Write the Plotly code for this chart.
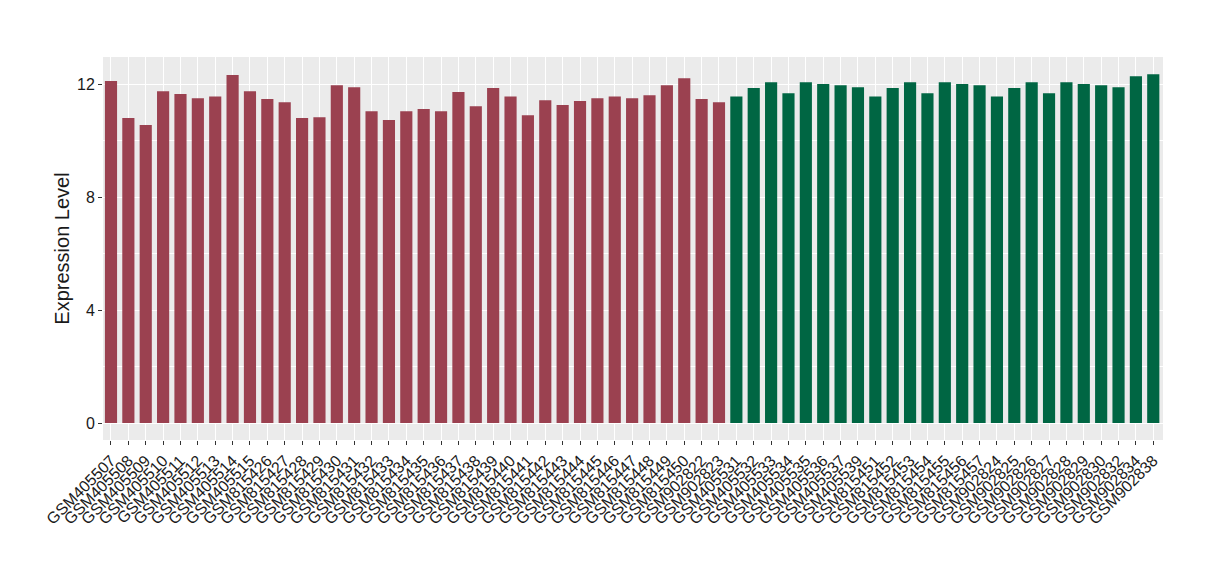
import plotly.graph_objects as go

red_samples = (["GSM4055%02d" % i for i in range(7, 16)]
               + ["GSM8154%02d" % i for i in range(26, 51)]
               + ["GSM902822", "GSM902823"])
green_samples = (["GSM4055%02d" % i for i in range(31, 38)] + ["GSM405539"]
                 + ["GSM8154%02d" % i for i in range(51, 58)]
                 + ["GSM9028%02d" % i for i in range(24, 31)]
                 + ["GSM902832", "GSM902834", "GSM902838"])

red_values = [12.11, 10.80, 10.55, 11.75, 11.65, 11.50, 11.56, 12.32, 11.75,
              11.47, 11.36, 10.80, 10.83, 11.96, 11.89, 11.04, 10.73, 11.04,
              11.12, 11.04, 11.72, 11.22, 11.86, 11.56, 10.90, 11.43, 11.26,
              11.40, 11.50, 11.56, 11.50, 11.61, 11.96, 12.21, 11.47, 11.36]
green_values = [11.56, 11.86, 12.07, 11.68, 12.07, 12.00, 11.96, 11.89, 11.56,
                11.86, 12.07, 11.68, 12.07, 12.00, 11.96, 11.56, 11.86, 12.07,
                11.68, 12.07, 12.00, 11.96, 11.89, 12.28, 12.35]

red_color = "#9B4150"
green_color = "#006643"

all_samples = red_samples + green_samples

fig = go.Figure()
fig.add_trace(go.Bar(x=red_samples, y=red_values, marker_color=red_color,
                     marker_line_width=0, width=0.7, showlegend=False))
fig.add_trace(go.Bar(x=green_samples, y=green_values, marker_color=green_color,
                     marker_line_width=0, width=0.7, showlegend=False))

fig.update_layout(
    width=1220, height=580,
    margin=dict(l=95, r=65, t=49, b=148),
    paper_bgcolor="white", plot_bgcolor="#EBEBEB",
    font=dict(family="Liberation Sans, Arial, sans-serif", color="#1a1a1a"),
    bargap=0.3,
)
fig.update_xaxes(
    type="category", categoryorder="array", categoryarray=all_samples,
    tickmode="linear", tick0=0, dtick=1,
    range=[-0.46, 60.56], tickangle=-45, tickfont=dict(size=16, color="#1a1a1a"),
    showgrid=True, gridcolor="white", gridwidth=1.2, automargin=False,
    ticks="outside", ticklen=4, tickcolor="#333333", tickwidth=1,
    showline=False, zeroline=False,
)
fig.update_yaxes(
    range=[-0.6, 12.96], tickmode="array", tickvals=[0, 4, 8, 12],
    ticktext=["0", "4", "8", "12"], tickfont=dict(size=16, color="#1a1a1a"),
    showgrid=True, gridcolor="white", gridwidth=1.2, automargin=False,
    minor=dict(tickmode="array", tickvals=[2, 6, 10], showgrid=True,
               gridcolor="white", gridwidth=0.6, ticks=""),
    ticks="outside", ticklen=4, tickcolor="#333333", tickwidth=1,
    zeroline=False, showline=False,
    title=dict(text="Expression Level", font=dict(size=20, color="#1a1a1a"), standoff=2),
)

fig.write_html("out.html")
